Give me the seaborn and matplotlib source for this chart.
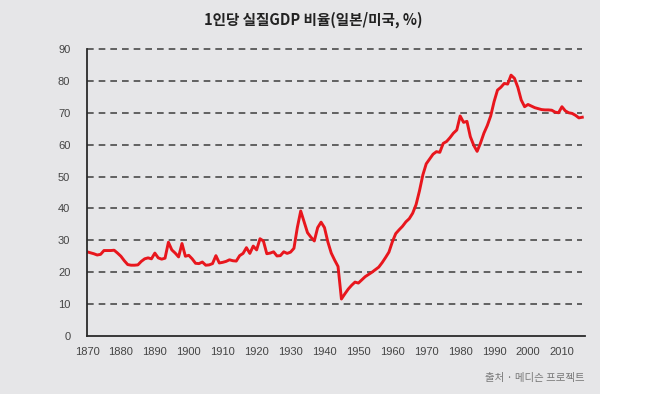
import numpy as np
import pandas as pd
import matplotlib
matplotlib.use('Agg')
import matplotlib.pyplot as plt
import seaborn as sns
from matplotlib.patches import Rectangle

years = list(range(1870, 2017))
ratio = [
    26.4, 26.1, 25.8, 25.4, 25.6, 26.8, 26.8, 26.8, 26.9, 26.0,   # 1870s
    25.0, 23.6, 22.4, 22.2, 22.2, 22.3, 23.4, 24.2, 24.5, 24.2,   # 1880s
    26.0, 24.5, 24.1, 24.4, 29.4, 27.0, 26.0, 24.8, 29.0, 25.0,   # 1890s
    25.3, 24.2, 22.8, 22.7, 23.2, 22.2, 22.3, 22.7, 25.2, 22.9,   # 1900s
    23.1, 23.4, 23.9, 23.6, 23.5, 25.2, 25.9, 27.7, 25.9, 28.2,   # 1910s
    27.0, 30.5, 29.8, 25.8, 26.0, 26.4, 25.1, 25.2, 26.4, 25.9,   # 1920s
    26.3, 27.5, 34.0, 39.2, 35.8, 32.4, 31.0, 29.8, 34.0, 35.7,   # 1930s
    34.0, 29.5, 26.0, 23.8, 21.8, 11.6, 13.2, 14.7, 15.9, 16.9,   # 1940s
    16.6, 17.6, 18.6, 19.3, 20.0, 20.8, 21.6, 23.0, 24.6, 26.3,   # 1950s
    29.5, 32.1, 33.3, 34.4, 35.8, 36.8, 38.5, 41.2, 45.5, 50.5,   # 1960s
    54.0, 55.5, 57.0, 57.8, 57.6, 60.4, 61.0, 62.2, 63.6, 64.6,   # 1970s
    69.0, 67.0, 67.3, 62.5, 59.8, 57.9, 60.5, 63.6, 66.0, 69.0,   # 1980s
    73.5, 77.1, 78.0, 79.2, 79.0, 81.8, 80.8, 78.0, 74.0, 71.9,   # 1990s
    72.6, 72.1, 71.6, 71.3, 71.0, 70.9, 70.9, 70.8, 70.2, 70.0,   # 2000s
    71.9, 70.6, 70.0, 69.8, 69.2, 68.4, 68.6,                     # 2010s
]
x_ticks = list(range(1870, 2011, 10))
y_ticks = list(range(0, 91, 10))

title = '1인당 실질GDP 비율(일본/미국, %)'
source = '출처 · 메디슨 프로젝트'

df = pd.DataFrame({'year': years, 'ratio': ratio})

bg = '#e6e6e8'
plt.rcParams['font.family'] = ['Liberation Sans', 'Noto Sans CJK KR', 'DejaVu Sans']

fig = plt.figure(figsize=(6.5, 3.94), dpi=100)
fig.patch.set_facecolor('white')
# gray panel, white strip on the right
fig.patches.append(Rectangle((0, 0), 600 / 650, 1, transform=fig.transFigure,
                             facecolor=bg, edgecolor='none', zorder=-5))

ax = fig.add_axes([87 / 650, 58 / 394, 498 / 650, 287 / 394])
ax.set_zorder(2)
ax.set_facecolor(bg)

sns.lineplot(data=df, x='year', y='ratio', color='#e8161d', linewidth=2.1, ax=ax)

ax.set_xlim(1870, 2016.8)
ax.set_ylim(0, 90)
ax.set_xticks(x_ticks)
ax.set_yticks(y_ticks)
ax.set_xlabel('')
ax.set_ylabel('')

for v in y_ticks[1:]:
    ax.axhline(v, xmin=0, xmax=0.994, color='#4a4a4a', linestyle=(0, (4, 3)),
               linewidth=1.2, zorder=0, clip_on=False)

for s in ['top', 'right']:
    ax.spines[s].set_visible(False)
for s in ['left', 'bottom']:
    ax.spines[s].set_color('#2a2a2a')
    ax.spines[s].set_linewidth(1.3)

ax.tick_params(axis='both', length=0, labelsize=8, colors='#444444')
ax.tick_params(axis='y', pad=12)
ax.tick_params(axis='x', pad=8)

fig.text(313 / 650, 1 - 20 / 394, title, ha='center', va='center',
         fontsize=10.5, fontweight='bold', color='#222222', zorder=5,
         family=['Noto Sans CJK KR', 'DejaVu Sans'])
fig.text(585 / 650, 1 - 378 / 394, source, ha='right', va='center',
         fontsize=7.5, color='#777777', zorder=5,
         family=['Noto Sans CJK KR', 'DejaVu Sans'])

fig.savefig('out.png', dpi=100, facecolor=fig.get_facecolor())
